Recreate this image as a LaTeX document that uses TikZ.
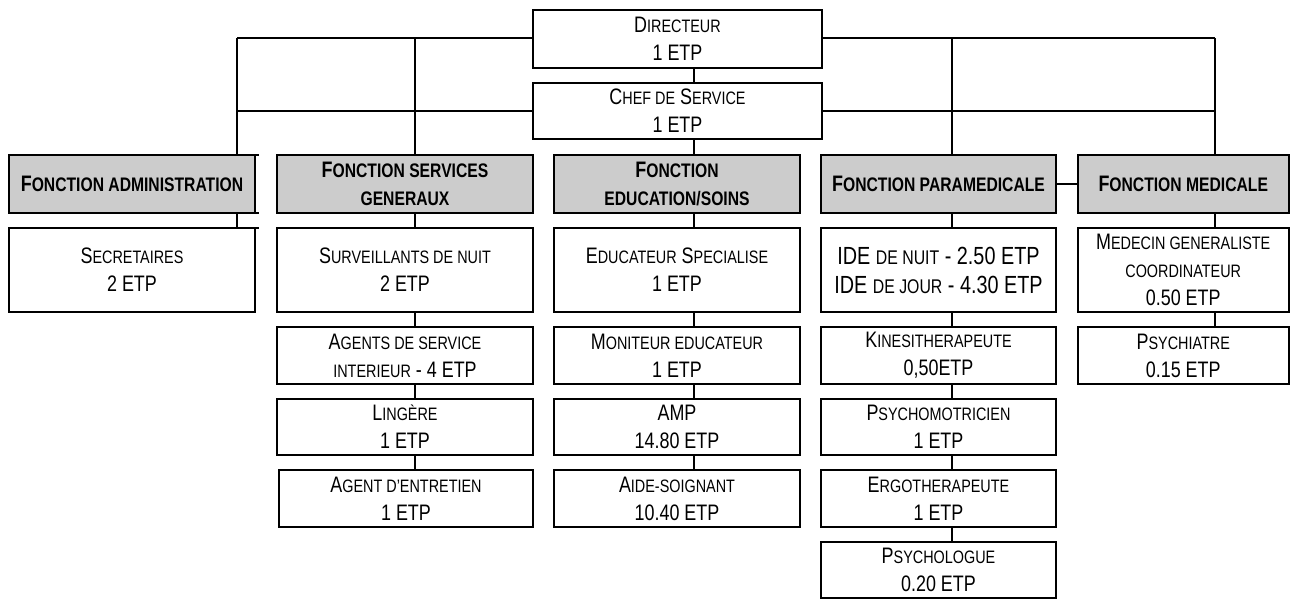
\documentclass[tikz,border=0pt]{standalone}
\usepackage{fontspec}
\setmainfont[FakeStretch=0.8]{Liberation Sans}
% small capitals made by hand: smaller upper-case letters
\newcommand\sm[1]{{\fontsize{9}{14}\selectfont #1}}
\newcommand\smb[1]{{\fontsize{9.8}{14}\selectfont #1}}
\definecolor{headgray}{RGB}{204,204,204}
% box from corner (x1,y1) to (x2,y2), in pixel units
\newcommand\mkbox[7]{\node[#6, minimum width={(#4-#2)*0.5pt}, minimum height={(#5-#3)*0.5pt}] (#1) at ({(#2+#4)/2},{(#3+#5)/2}) {#7};}
\begin{document}
\begin{tikzpicture}[x=0.5pt, y=-0.5pt, line width=1pt,
  base/.style={draw=black, line width=1pt, inner sep=0pt, outer sep=0pt, align=center, fill=white,
    font=\fontsize{11.2}{14}\selectfont},
  staff/.style={base},
  head/.style={base, fill=headgray, font=\fontsize{11.2}{14}\selectfont\bfseries},
  link/.style={draw=black, line width=1pt}]
\useasboundingbox (0,0) rectangle (1290,599);

% direction
\mkbox{dir}{533}{10}{822}{68}{staff}{D\sm{IRECTEUR}\\1 ETP}
\mkbox{chef}{533}{83}{822}{139}{staff}{C\sm{HEF DE} S\sm{ERVICE}\\1 ETP}

% function headers
\mkbox{hadm}{9}{155}{255}{213}{head}{F\smb{ONCTION ADMINISTRATION}}
\mkbox{hsvc}{277}{155}{533}{213}{head}{F\smb{ONCTION SERVICES}\\\smb{GENERAUX}}
\mkbox{hedu}{554}{155}{800}{213}{head}{F\smb{ONCTION}\\\smb{EDUCATION/SOINS}}
\mkbox{hpar}{821}{155}{1056}{213}{head}{F\smb{ONCTION PARAMEDICALE}}
\mkbox{hmed}{1078}{155}{1288.5}{213}{head}{F\smb{ONCTION MEDICALE}}

% administration
\mkbox{sec}{9}{228}{255}{312}{staff}{S\sm{ECRETAIRES}\\2 ETP}

% services generaux
\mkbox{surv}{277}{228}{533}{312}{staff}{S\sm{URVEILLANTS DE NUIT}\\2 ETP}
\mkbox{asi}{277}{327}{533}{384}{staff}{A\sm{GENTS DE SERVICE}\\\sm{INTERIEUR} - 4 ETP}
\mkbox{ling}{277}{399}{533}{455}{staff}{L\sm{INGÈRE}\\1 ETP}
\mkbox{entr}{279}{470}{533}{527}{staff}{A\sm{GENT D’ENTRETIEN}\\1 ETP}

% education / soins
\mkbox{educ}{554}{228}{800}{312}{staff}{E\sm{DUCATEUR} S\sm{PECIALISE}\\1 ETP}
\mkbox{moni}{554}{327}{800}{384}{staff}{M\sm{ONITEUR EDUCATEUR}\\1 ETP}
\mkbox{amp}{554}{399}{800}{455}{staff}{AMP\\14.80 ETP}
\mkbox{aide}{554}{470}{800}{527}{staff}{A\sm{IDE-SOIGNANT}\\10.40 ETP}

% paramedicale
\mkbox{ide}{821}{228}{1056}{312}{staff,font=\fontsize{12.4}{14.5}\selectfont}{IDE {\fontsize{9.9}{14}\selectfont DE NUIT} - 2.50 ETP\\IDE {\fontsize{9.9}{14}\selectfont DE JOUR} - 4.30 ETP}
\mkbox{kine}{821}{327}{1056}{384}{staff}{K\sm{INESITHERAPEUTE}\\0,50ETP}
\mkbox{pmot}{821}{399}{1056}{455}{staff}{P\sm{SYCHOMOTRICIEN}\\1 ETP}
\mkbox{ergo}{821}{470}{1056}{527}{staff}{E\sm{RGOTHERAPEUTE}\\1 ETP}
\mkbox{plog}{821}{542}{1056}{597.5}{staff}{P\sm{SYCHOLOGUE}\\0.20 ETP}

% medicale
\mkbox{medg}{1078}{228}{1288.5}{312}{staff}{M\sm{EDECIN GENERALISTE}\\\sm{COORDINATEUR}\\0.50 ETP}
\mkbox{psyc}{1078}{327}{1288.5}{384}{staff}{P\sm{SYCHIATRE}\\0.15 ETP}

% connector columns
\coordinate (c1) at (237,0);
\coordinate (c2) at (415,0);
\coordinate (c3) at (694,0);
\coordinate (c4) at (952,0);
\coordinate (c5) at (1215,0);
\coordinate (tl) at (237,38.5);
\coordinate (tr) at (1215,38.5);
\coordinate (ml) at (237,111.5);
\coordinate (mr) at (1215,111.5);

% the two horizontal bars behind the direction boxes
\draw[link] (tl) -- (dir.west |- tl);
\draw[link] (dir.east |- tr) -- (tr);
\draw[link] (ml) -- (chef.west |- ml);
\draw[link] (chef.east |- mr) -- (mr);

% bars down to the function headers
\draw[link] (tl) -- (hadm.north -| c1);
\draw[link] (tl -| c2) -- (hsvc.north -| c2);
\draw[link] (tr -| c4) -- (hpar.north -| c4);
\draw[link] (tr) -- (hmed.north -| c5);
\draw[link] (dir.south -| c3) -- (chef.north -| c3);
\draw[link] (chef.south -| c3) -- (hedu.north -| c3);
\draw[link] (hpar.east) -- (hmed.west);

% administration column
\draw[link] (hadm.south -| c1) -- (sec.north -| c1);
\draw[link] (hadm.north east) -- ++(4,0);
\draw[link] (hadm.south east) -- ++(4,0);
\draw[link] (sec.north east) -- ++(4,0);

% services generaux column
\draw[link] (hsvc.south -| c2) -- (surv.north -| c2);
\draw[link] (surv.south -| c2) -- (asi.north -| c2);
\draw[link] (asi.south -| c2) -- (ling.north -| c2);
\draw[link] (ling.south -| c2) -- (entr.north -| c2);

% education / soins column
\draw[link] (hedu.south -| c3) -- (educ.north -| c3);
\draw[link] (educ.south -| c3) -- (moni.north -| c3);
\draw[link] (moni.south -| c3) -- (amp.north -| c3);
\draw[link] (amp.south -| c3) -- (aide.north -| c3);

% paramedicale column
\draw[link] (hpar.south -| c4) -- (ide.north -| c4);
\draw[link] (ide.south -| c4) -- (kine.north -| c4);
\draw[link] (kine.south -| c4) -- (pmot.north -| c4);
\draw[link] (pmot.south -| c4) -- (ergo.north -| c4);
\draw[link] (ergo.south -| c4) -- (plog.north -| c4);

% medicale column
\draw[link] (hmed.south -| c5) -- (medg.north -| c5);
\draw[link] (medg.south -| c5) -- (psyc.north -| c5);
\end{tikzpicture}
\end{document}
